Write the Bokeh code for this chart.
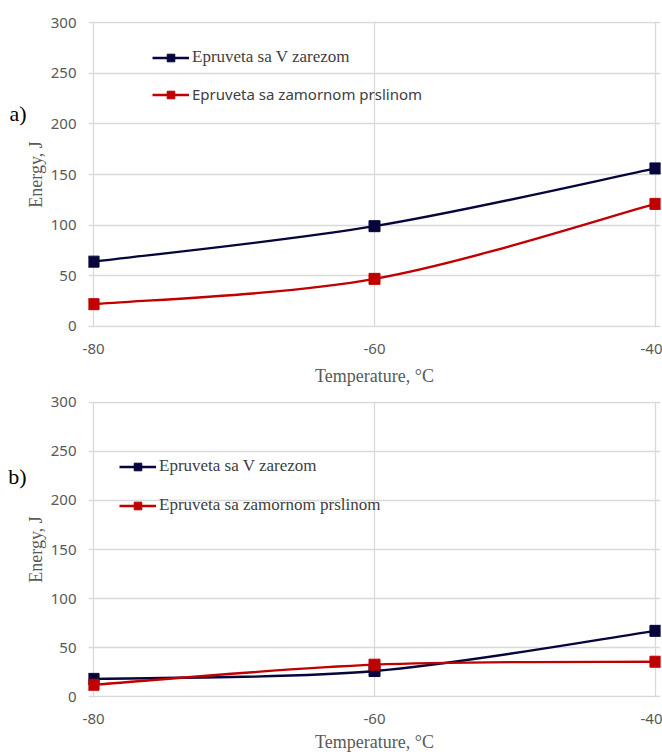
from bokeh.plotting import figure
from bokeh.models import Legend, LegendItem, LinearAxis, FixedTicker, Range1d
from bokeh.layouts import column
from bokeh.embed import file_html
from bokeh.resources import INLINE

# ---- data ----
temps = [-80, -60, -40]
a_v_notch = [64, 99, 156]
a_fatigue = [22, 47, 121]
b_v_notch = [18, 26, 67]
b_fatigue = [12, 32.5, 35.5]
y_ticks = [0, 50, 100, 150, 200, 250, 300]
series_names = ["Epruveta sa V zarezom", "Epruveta sa zamornom prslinom"]
panel_labels = ["a)", "b)"]
x_title = "Temperature, °C"
y_title = "Energy, J"

NAVY = "#06063c"
RED = "#c00000"
GRID = "#d9d9d9"
TICK_COL = "#595959"
SERIF = "Liberation Serif"
SANS = "Noto Sans"


def smooth_segments(xs, ys):
    """Excel-like smoothed line: cubic Bezier control points per segment."""
    n = len(xs)
    d = dict(x0=[], y0=[], x1=[], y1=[], cx0=[], cy0=[], cx1=[], cy1=[])
    for i in range(n - 1):
        i0, i3 = max(i - 1, 0), min(i + 2, n - 1)
        d["x0"].append(xs[i]); d["y0"].append(ys[i])
        d["x1"].append(xs[i + 1]); d["y1"].append(ys[i + 1])
        d["cx0"].append(xs[i] + (xs[i + 1] - xs[i0]) / 6.0)
        d["cy0"].append(ys[i] + (ys[i + 1] - ys[i0]) / 6.0)
        d["cx1"].append(xs[i + 1] - (xs[i3] - xs[i]) / 6.0)
        d["cy1"].append(ys[i + 1] - (ys[i3] - ys[i]) / 6.0)
    return d


def make_chart(label, v_vals, f_vals, height, top, bottom, leg_x, leg_y1, leg_y2,
               font2, label_y, title_standoff):
    p = figure(width=662, height=height,
               x_range=Range1d(-80.36, -39.64), y_range=Range1d(-1, 301),
               output_backend="svg", toolbar_location=None,
               min_border_left=88, min_border_right=2,
               min_border_top=top, min_border_bottom=bottom,
               background_fill_color="white", border_fill_color="white")
    p.outline_line_color = None

    for ax in (p.xaxis[0], p.yaxis[0]):
        ax.axis_line_color = None
        ax.major_tick_line_color = None
        ax.minor_tick_line_color = None
        ax.major_label_text_font = SANS
        ax.major_label_text_font_size = "15px"
        ax.major_label_text_color = TICK_COL
        ax.axis_label_text_font = SERIF
        ax.axis_label_text_font_style = "normal"
        ax.axis_label_text_font_size = "18px"
        ax.axis_label_text_color = TICK_COL

    p.xaxis.ticker = FixedTicker(ticks=temps)
    p.xaxis.major_label_overrides = {t: str(t) for t in temps}
    p.yaxis.ticker = FixedTicker(ticks=y_ticks)
    p.xaxis.axis_label = x_title
    p.yaxis.axis_label = y_title
    p.xaxis.major_label_standoff = 10
    p.xaxis.axis_label_standoff = title_standoff
    p.yaxis.major_label_standoff = 6
    p.yaxis.axis_label_standoff = 2

    # panel letter, drawn as the single label of an extra, bare left axis
    tag_axis = LinearAxis(ticker=FixedTicker(ticks=[label_y]),
                          major_label_overrides={label_y: label},
                          axis_line_color=None, major_tick_line_color=None,
                          minor_tick_line_color=None, major_label_standoff=-10,
                          major_label_text_font=SERIF, major_label_text_font_size="22px",
                          major_label_text_color="black")
    p.add_layout(tag_axis, "left")

    p.xgrid.ticker = FixedTicker(ticks=temps)
    p.ygrid.ticker = FixedTicker(ticks=y_ticks)
    p.grid.grid_line_color = GRID
    p.grid.grid_line_width = 1.3

    renderers = []
    for vals, col in ((v_vals, NAVY), (f_vals, RED)):
        seg = smooth_segments(temps, vals)
        r_line = p.bezier(x0="x0", y0="y0", x1="x1", y1="y1", cx0="cx0", cy0="cy0",
                          cx1="cx1", cy1="cy1", source=seg, line_color=col, line_width=2.4)
        r_pts = p.scatter(temps, vals, marker="square", size=11,
                          fill_color=col, line_color=col)
        renderers.append((r_line, r_pts))

    for (rl, rp), name, ly, fnt, fsize in (
        (renderers[0], series_names[0], leg_y1, SERIF, "17px"),
        (renderers[1], series_names[1], leg_y2, font2[0], font2[1]),
    ):
        leg = Legend(items=[LegendItem(label=name, renderers=[rl, rp])],
                     location=(leg_x, ly), padding=0, margin=0, spacing=0,
                     glyph_width=37, glyph_height=19, label_height=19,
                     label_standoff=3, border_line_color=None,
                     background_fill_alpha=0,
                     label_text_font=fnt, label_text_font_size=fsize,
                     label_text_color="#404040")
        p.add_layout(leg)
    return p


p1 = make_chart(panel_labels[0], a_v_notch, a_fatigue, 388, 21, 61,
                64, 260, 223, (SANS, "15px"), 210, 9)
p2 = make_chart(panel_labels[1], b_v_notch, b_fatigue, 366, 13, 55,
                31, 221, 182, (SERIF, "17px"), 224, 5)

layout = column(p1, p2, spacing=0)
open("out.html", "w").write(file_html(layout, INLINE))
